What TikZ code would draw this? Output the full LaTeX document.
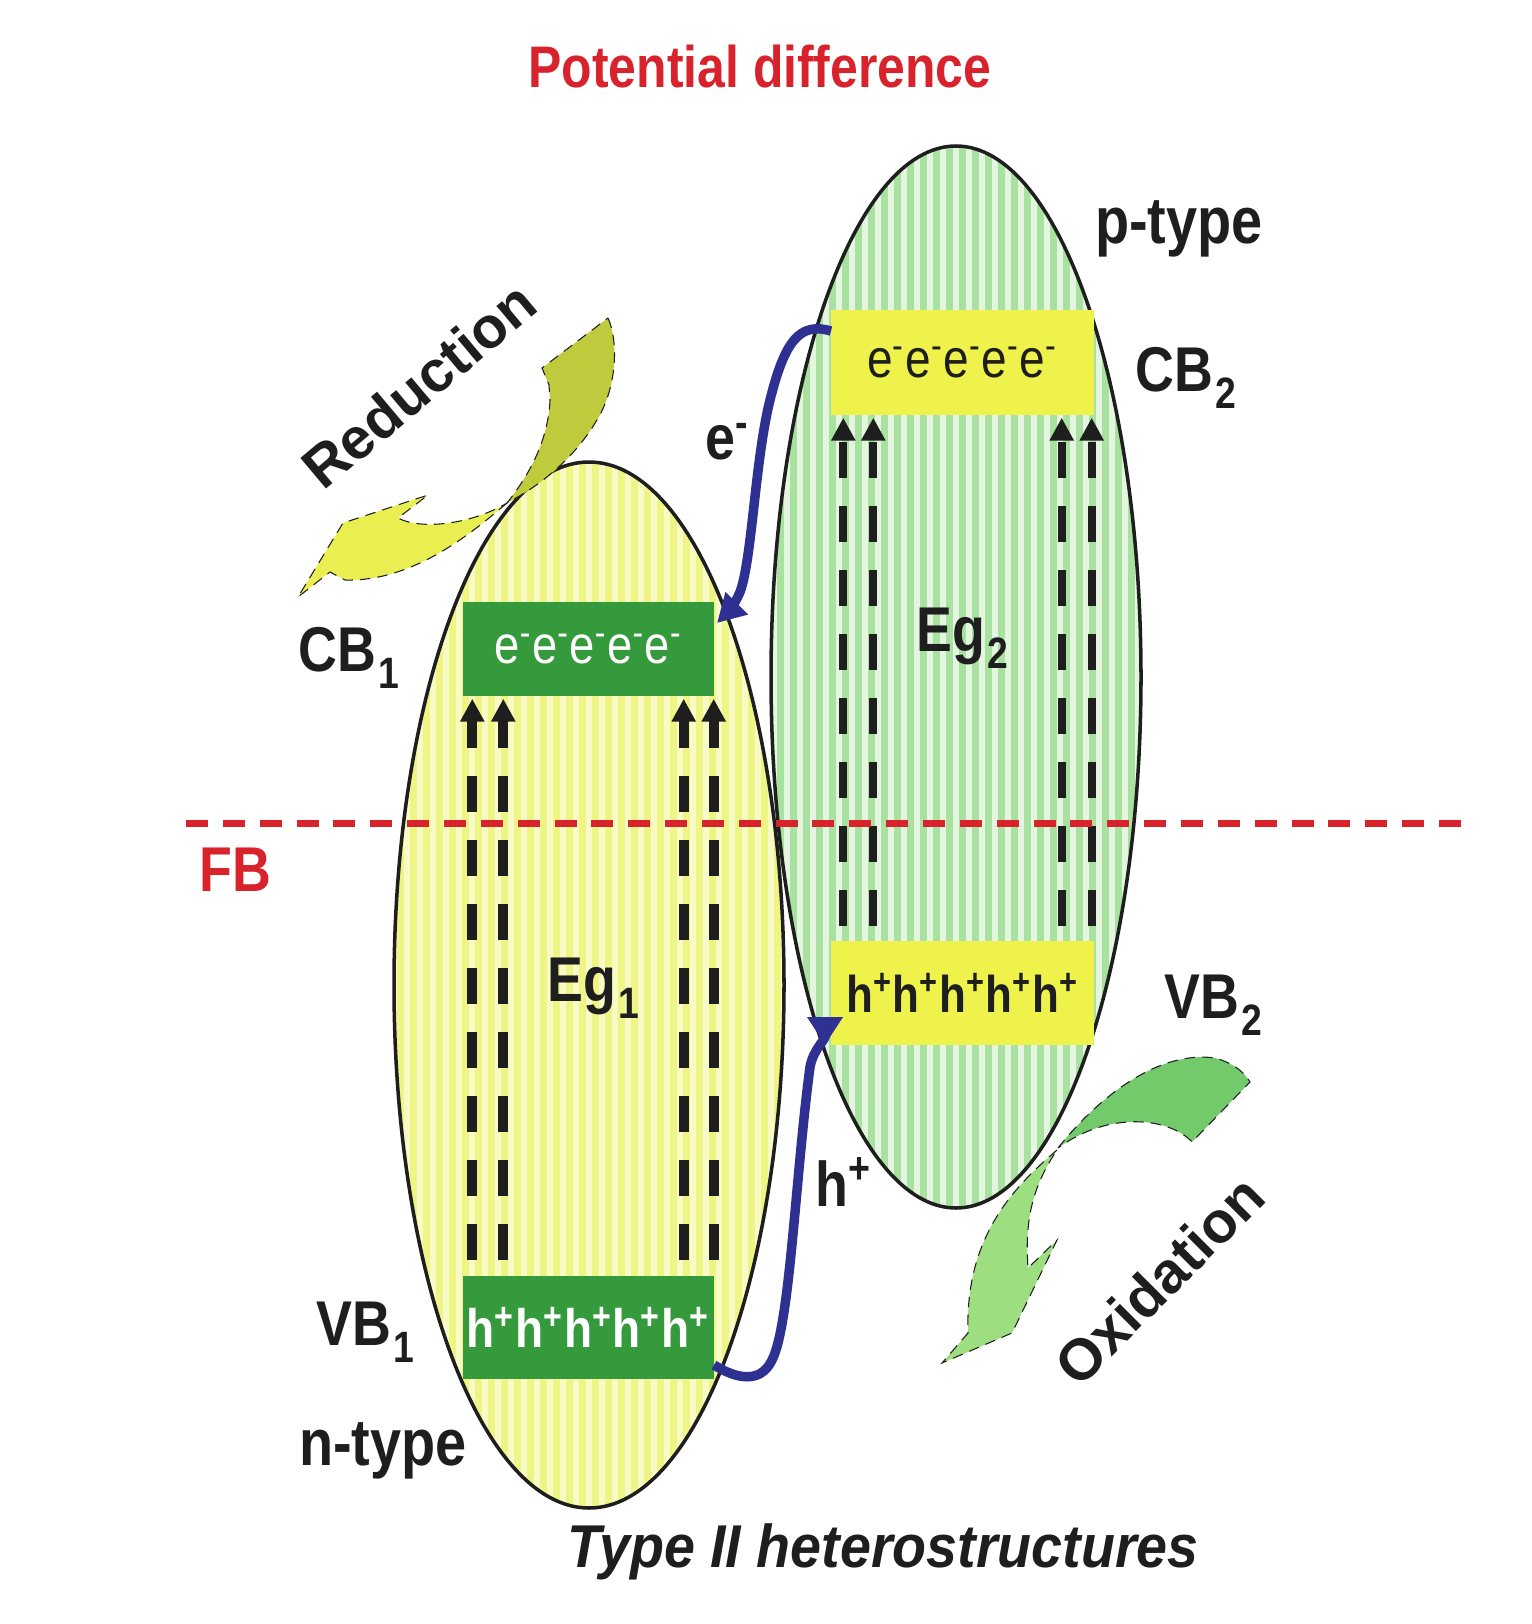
\documentclass[tikz,border=0pt]{standalone}
\usepackage{fontspec}
\setmainfont[FakeStretch=0.85]{Liberation Sans}
\newfontfamily\widefont{Liberation Sans}
\newfontfamily\captionfont[FakeStretch=0.92]{Liberation Sans}
\usepackage{tikz}
\usetikzlibrary{
  arrows.meta,
  shapes.geometric
}
\definecolor{yellowbase}{HTML}{EEF585}
\definecolor{yellowlight}{HTML}{F9FBC6}
\definecolor{greenbase}{HTML}{A9E2A0}
\definecolor{greenlight}{HTML}{E4F6DF}
\definecolor{darkband}{HTML}{359A3C}
\definecolor{lightband}{HTML}{EFF24A}
\definecolor{fbred}{HTML}{D8222C}
\definecolor{flowblue}{HTML}{2E3192}
\definecolor{inkblack}{HTML}{1E1E1E}
\definecolor{swirlolive}{HTML}{BFCB3C}
\definecolor{swirlyellow}{HTML}{E9EF50}
\definecolor{swirlgreen}{HTML}{72CA6A}
\definecolor{swirlpale}{HTML}{9DDF80}
\newcommand\lsub[1]{\kern0.6pt\raisebox{-4.7pt}{\fontsize{12.5}{14}\selectfont #1}}
\begin{document}
\begin{tikzpicture}[
      x=0.1mm,y=-0.1mm,
      striped/.style 2 args={
         ellipse,
         draw=inkblack,
         line width=1pt,
         inner sep=0pt,
         fill=#1,
         path picture={
            \foreach \s in {-16,...,16}
               \draw[line width=0.55mm,#2]
                  ([xshift=\s*1.3mm]path picture bounding box.north) --
                  ([xshift=\s*1.3mm]path picture bounding box.south);
         }
      },
      band/.style={
         rectangle,
         minimum width=25.1mm,
         inner sep=0pt,
      },
      label/.style={
         font=\fontsize{18}{20}\selectfont\bfseries,
         text=inkblack,
         inner sep=0pt
      },
      redlabel/.style={
         label,text=fbred
      },
      slanted label/.style={
         font=\widefont\fontsize{16.5}{20}\selectfont\bfseries,
         text=inkblack,
         inner sep=0pt,
         rotate=#1
      },
      jump/.style={
         -{Triangle[length=2.3mm,width=2.3mm]},
         inkblack,
         dash pattern=on 3.6mm off 2.8mm,
         shorten >=0.2mm
      },
      flow/.style={
         flowblue,line width=2.7pt
      },
      swirl/.style={
         draw=inkblack,line width=0.3pt,densely dashed
      }
    ]
    \useasboundingbox (0,0) rectangle (1532,1624);
    % the two bodies
    \node (ntype) [striped={yellowbase}{yellowlight},minimum width=39mm,minimum height=104.6mm] at (589,985) {};
    \node (ptype) [striped={greenbase}{greenlight},minimum width=37mm,minimum height=106.2mm] at (956,677) {};
    % bands
    \node (cb1) [band,fill=darkband,minimum height=9.4mm,text=white,font=\fontsize{15.2}{18}\selectfont] at (588.5,649) {\raisebox{-1.4pt}{e\textsuperscript{-}e\textsuperscript{-}e\textsuperscript{-}e\textsuperscript{-}e\textsuperscript{-}}};
    \node (vb1) [band,fill=darkband,minimum height=10.3mm,text=white,font=\fontsize{15.4}{18}\selectfont\bfseries] at (588.5,1327.5) {h\textsuperscript{+}h\textsuperscript{+}h\textsuperscript{+}h\textsuperscript{+}h\textsuperscript{+}};
    \node (cb2) [band,fill=lightband,minimum width=26.3mm,minimum height=10.5mm,text=inkblack,font=\fontsize{15.4}{18}\selectfont] at (962.5,362.5) {\raisebox{-2pt}{e\textsuperscript{-}e\textsuperscript{-}e\textsuperscript{-}e\textsuperscript{-}e\textsuperscript{-}}};
    \node (vb2) [band,fill=lightband,minimum width=26.3mm,minimum height=10.4mm,text=inkblack,font=\fontsize{14.7}{18}\selectfont\bfseries] at (962.5,993) {h\textsuperscript{+}h\textsuperscript{+}h\textsuperscript{+}h\textsuperscript{+}h\textsuperscript{+}};
    % excitation
    \foreach \d in {1,4.1}
       \draw[jump,line width=1mm,shorten <=1.5mm] ([xshift=\d mm]vb1.north west) -- ([xshift=\d mm]cb1.south west);
    \foreach \d in {3.1,0.1}
       \draw[jump,line width=1mm,shorten <=1.5mm] ([xshift=-\d mm]vb1.north east) -- ([xshift=-\d mm]cb1.south east);
    \foreach \d in {1.3,4.3}
       \draw[jump,line width=0.8mm,shorten <=1.4mm] ([xshift=\d mm]vb2.north west) -- ([xshift=\d mm]cb2.south west);
    \foreach \d in {3.3,0.3}
       \draw[jump,line width=0.8mm,shorten <=1.4mm] ([xshift=-\d mm]vb2.north east) -- ([xshift=-\d mm]cb2.south east);
    % Fermi level
    \coordinate (fbleft) at (186,823);
    \coordinate (fbright) at (1461,823);
    \draw[fbred,line width=0.7mm,dash pattern=on 2.2mm off 1.485mm] (fbleft) -- (fbright);
    % carriers
    \coordinate (estart) at (831,331);
    \coordinate (etip) at (717,623);
    \coordinate (hstart) at (714,1365);
    \coordinate (htip) at (825,1017);
    \draw[flow,-{Triangle[length=2.8mm,width=3mm]}] (estart) .. controls (800,322) and (785,340) .. (770,400)
       .. controls (755,460) and (752,560) .. (740,592) .. controls (735,604) and (728,612) .. (etip);
    \draw[flow,-{Triangle[reversed,length=2.8mm,width=3.4mm]}] (hstart) .. controls (735,1378) and (760,1385) .. (772,1360)
       .. controls (790,1325) and (795,1180) .. (810,1067) .. controls (813,1050) and (825,1040) .. (htip);
    % swirls
    \fill[swirl,fill=swirlolive] (608,318) .. controls (618,340) and (618,385) .. (597,420)
       .. controls (585,440) and (560,475) .. (507,503) .. controls (525,480) and (548,445) .. (550,400)
       -- (549,385) -- (542,368) -- cycle;
    \fill[swirl,fill=swirlyellow] (507,503) .. controls (475,530) and (415,582) .. (345,580)
       -- (330,572) -- (298,597) -- (343,523) -- (428,495) -- (398,518)
       .. controls (420,530) and (470,525) .. (507,503) -- cycle;
    \fill[swirl,fill=swirlgreen] (1058,1148) .. controls (1100,1095) and (1160,1050) .. (1215,1058)
       .. controls (1230,1062) and (1243,1070) .. (1250,1082) -- (1192,1142)
       .. controls (1170,1118) and (1110,1110) .. (1058,1148) -- cycle;
    \fill[swirl,fill=swirlpale] (1057,1150) .. controls (1010,1190) and (965,1240) .. (968,1333)
       -- (942,1363) -- (1012,1333) -- (1057,1240) -- (1028,1268)
       .. controls (1025,1225) and (1030,1190) .. (1057,1150) -- cycle;
    % labels
    \node (title) [redlabel,font=\fontsize{16.7}{20}\selectfont\bfseries] at (760,67) {Potential difference};
    \node (lptype) [label,font=\fontsize{18.7}{20}\selectfont\bfseries] at (1179,229) {p-type};
    \node (lcb2) [label] at (1186,378) {CB\lsub{2}};
    \node (le) [label] at (728,442) {e\textsuperscript{-}};
    \node (leg2) [label] at (962,638) {Eg\lsub{2}};
    \node (lcb1) [label] at (349,658) {CB\lsub{1}};
    \node (lfb) [redlabel] at (235,870) {FB};
    \node (leg1) [label] at (593,988) {Eg\lsub{1}};
    \node (lvb2) [label] at (1213,1005) {VB\lsub{2}};
    \node (lh) [label] at (844,1182) {h\textsuperscript{+}};
    \node (lvb1) [label] at (365,1332) {VB\lsub{1}};
    \node (lntype) [label,font=\fontsize{18.7}{20}\selectfont\bfseries] at (383,1451) {n-type};
    \node (lreduction) [slanted label=40] at (419,385) {Reduction};
    \node (loxidation) [slanted label=45] at (1159,1280) {Oxidation};
    \node (caption) [label,font=\captionfont\fontsize{17.2}{20}\selectfont\bfseries\itshape] at (883,1552) {Type II heterostructures};
\end{tikzpicture}
\end{document}
